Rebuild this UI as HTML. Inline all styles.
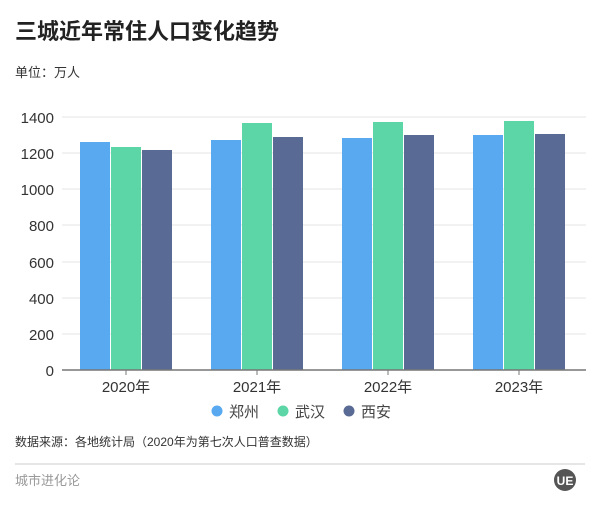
<!DOCTYPE html>
<html><head><meta charset="utf-8"><style>
body{margin:0;width:600px;height:510px;background:#fff;font-family:"Liberation Sans","Noto Sans CJK SC",sans-serif;position:relative;overflow:hidden}
.t{position:absolute;white-space:nowrap}
</style></head><body>
<div class="t" style="left:15px;top:14px;font-size:22px;font-weight:bold;color:#222">三城近年常住人口变化趋势</div>
<div class="t" style="left:15px;top:62px;font-size:13px;color:#333">单位：万人</div>
<svg width="600" height="510" style="position:absolute;left:0;top:0" font-family="Liberation Sans, Noto Sans CJK SC, sans-serif">
<g stroke="#e4e4e4" stroke-width="1">
<line x1="62" x2="586" y1="117" y2="117"/><line x1="62" x2="586" y1="153" y2="153"/><line x1="62" x2="586" y1="189" y2="189"/><line x1="62" x2="586" y1="225" y2="225"/><line x1="62" x2="586" y1="262" y2="262"/><line x1="62" x2="586" y1="298" y2="298"/><line x1="62" x2="586" y1="334" y2="334"/>
</g>
<g font-size="15" fill="#333" text-anchor="end">
<text x="54" y="123">1400</text><text x="54" y="159">1200</text><text x="54" y="195">1000</text><text x="54" y="231">800</text><text x="54" y="268">600</text><text x="54" y="304">400</text><text x="54" y="340">200</text><text x="54" y="376">0</text>
</g>
<g>
<rect x="80" y="142" width="30" height="228" fill="#58a9f0"/><rect x="111" y="147" width="30" height="223" fill="#5cd6a6"/><rect x="142" y="150" width="30" height="220" fill="#596b95"/>
<rect x="211" y="140" width="30" height="230" fill="#58a9f0"/><rect x="242" y="123" width="30" height="247" fill="#5cd6a6"/><rect x="273" y="137" width="30" height="233" fill="#596b95"/>
<rect x="342" y="138" width="30" height="232" fill="#58a9f0"/><rect x="373" y="122" width="30" height="248" fill="#5cd6a6"/><rect x="404" y="135" width="30" height="235" fill="#596b95"/>
<rect x="473" y="135" width="30" height="235" fill="#58a9f0"/><rect x="504" y="121" width="30" height="249" fill="#5cd6a6"/><rect x="535" y="134" width="30" height="236" fill="#596b95"/>
</g>
<line x1="62" x2="586" y1="370" y2="370" stroke="#777" stroke-width="1.5"/>
<g stroke="#777"><line x1="126" x2="126" y1="370" y2="375"/><line x1="257" x2="257" y1="370" y2="375"/><line x1="388" x2="388" y1="370" y2="375"/><line x1="519" x2="519" y1="370" y2="375"/></g>
<g font-size="15" fill="#333" text-anchor="middle">
<text x="126" y="392">2020年</text><text x="257" y="392">2021年</text><text x="388" y="392">2022年</text><text x="519" y="392">2023年</text>
</g>
<g font-size="15" fill="#444">
<circle cx="217" cy="411" r="5.5" fill="#58a9f0"/><text x="229" y="417">郑州</text>
<circle cx="283" cy="411" r="5.5" fill="#5cd6a6"/><text x="295" y="417">武汉</text>
<circle cx="349" cy="411" r="5.5" fill="#596b95"/><text x="361" y="417">西安</text>
</g>
<text x="15" y="446" font-size="12" fill="#333">数据来源：各地统计局（2020年为第七次人口普查数据）</text>
<line x1="15" x2="585" y1="464" y2="464" stroke="#e6e6e6" stroke-width="2"/>
<text x="15" y="485" font-size="13" fill="#999">城市进化论</text>
<circle cx="565" cy="480" r="11" fill="#555"/>
<text x="565" y="485" font-size="12" font-weight="bold" fill="#fff" text-anchor="middle">UE</text>
</svg>
</body></html>
